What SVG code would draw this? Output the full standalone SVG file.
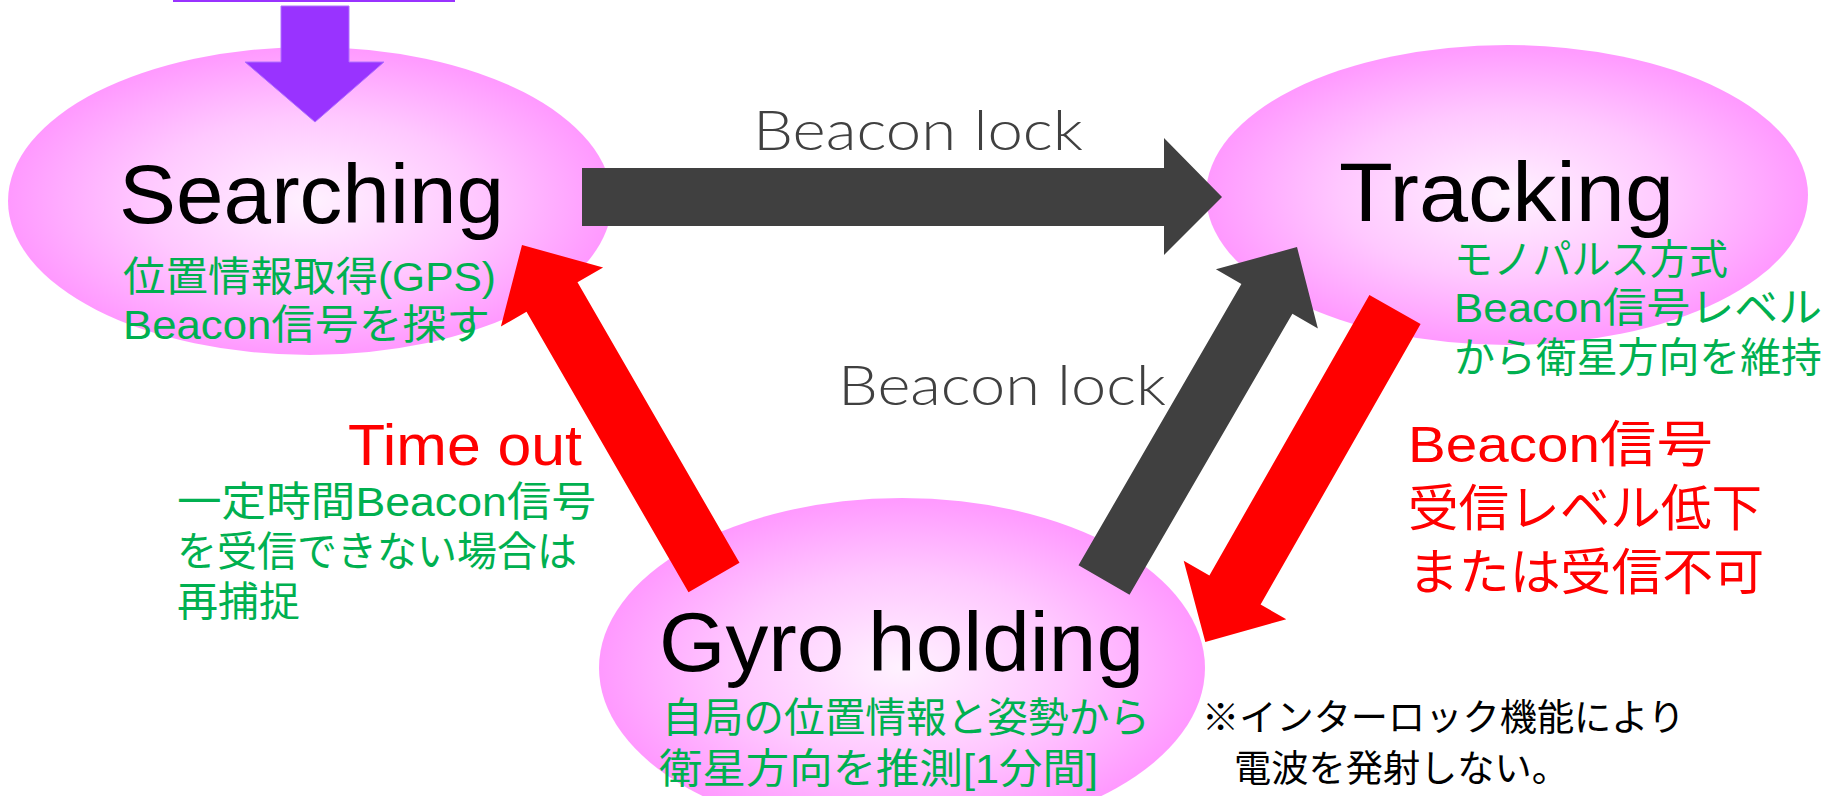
<svg xmlns="http://www.w3.org/2000/svg" width="1836" height="796" viewBox="0 0 1836 796">
  <defs>
    <radialGradient id="pinkGrad" cx="50%" cy="50%" r="50%">
      <stop offset="0%" stop-color="#FFF2FF"/>
      <stop offset="55%" stop-color="#FFC8FF"/>
      <stop offset="100%" stop-color="#FF99FF"/>
    </radialGradient>
  </defs>
  <style>
    .state { fill: url(#pinkGrad); }
    .title { font-family: "Liberation Sans", "Noto Sans CJK JP", sans-serif; font-size: 84px; fill: #000000; }
    .green { font-family: "Liberation Sans", "Noto Sans CJK JP", sans-serif; font-size: 41px; fill: #00B050; }
    .lock { font-family: "Lato", "Liberation Sans", sans-serif; font-weight: 300; font-size: 56px; fill: #404040; }
    .redtxt { font-family: "Liberation Sans", "Noto Sans CJK JP", sans-serif; fill: #FF0000; }
    .note { font-family: "Noto Sans CJK JP", sans-serif; font-size: 37px; fill: #000000; }
    .dark { fill: #404040; }
    .red { fill: #FF0000; }
    .purple { fill: #9933FF; }
  </style>

  <rect width="1836" height="796" fill="#FFFFFF"/>

  <g id="searching">
    <ellipse class="state" cx="310" cy="201" rx="302" ry="154"/>
    <text class="title" x="119" y="223" textLength="385" lengthAdjust="spacingAndGlyphs">Searching</text>
    <text class="green" x="123" y="291" textLength="373" lengthAdjust="spacingAndGlyphs">位置情報取得(GPS)</text>
    <text class="green" x="123" y="339" textLength="367" lengthAdjust="spacingAndGlyphs">Beacon信号を探す</text>
  </g>

  <g id="tracking">
    <ellipse class="state" cx="1507" cy="195" rx="301" ry="150"/>
    <text class="title" x="1339" y="221" textLength="335" lengthAdjust="spacingAndGlyphs">Tracking</text>
    <text class="green" x="1454" y="274" font-size="38" textLength="274" lengthAdjust="spacingAndGlyphs">モノパルス方式</text>
    <text class="green" x="1454" y="322" font-size="40" textLength="368" lengthAdjust="spacingAndGlyphs">Beacon信号レベル</text>
    <text class="green" x="1454" y="372" font-size="40" textLength="368" lengthAdjust="spacingAndGlyphs">から衛星方向を維持</text>
  </g>

  <g id="gyro">
    <ellipse class="state" cx="902" cy="668" rx="303" ry="170"/>
    <text class="title" x="659" y="671" textLength="485" lengthAdjust="spacingAndGlyphs">Gyro holding</text>
    <text class="green" x="662" y="732" textLength="488" lengthAdjust="spacingAndGlyphs">自局の位置情報と姿勢から</text>
    <text class="green" x="659" y="783" textLength="439" lengthAdjust="spacingAndGlyphs">衛星方向を推測[1分間]</text>
  </g>

  <g id="connectors">
    <rect class="purple" x="173" y="0" width="282" height="2"/>
    <polygon class="purple" stroke="#B070FF" stroke-width="1" points="281,6 349,6 349,62 384,62 315,122 245,62 281,62"/>
    <polygon class="dark" points="582,168 1164,168 1164,138 1222,197 1164,255 1164,226 582,226"/>
    <polygon class="red" points="739.5,562.8 577.5,282.3 603.1,267.5 522,245 500.9,326.5 526.5,311.8 688.5,592.3"/>
    <polygon class="dark" points="1078.5,565.2 1241.4,284.1 1215.9,269.3 1297,247 1317.9,328.5 1292.4,313.7 1129.5,594.8"/>
    <polygon class="red" points="1369.4,294.9 1420.6,324.1 1260.6,604.6 1286.3,619.2 1205.3,642.1 1183.7,560.8 1209.4,575.4"/>
  </g>

  <g id="labels">
    <text class="lock" x="753" y="150" textLength="330" lengthAdjust="spacingAndGlyphs">Beacon lock</text>
    <text class="lock" x="838" y="405" textLength="328" lengthAdjust="spacingAndGlyphs">Beacon lock</text>

    <text class="redtxt" x="348" y="465" font-size="58" textLength="234" lengthAdjust="spacingAndGlyphs">Time out</text>
    <text class="green" x="177" y="516" textLength="419" lengthAdjust="spacingAndGlyphs">一定時間Beacon信号</text>
    <text class="green" x="177" y="566" textLength="400" lengthAdjust="spacingAndGlyphs">を受信できない場合は</text>
    <text class="green" x="177" y="616" textLength="123" lengthAdjust="spacingAndGlyphs">再捕捉</text>

    <text class="redtxt" x="1408" y="462" font-size="50" textLength="305" lengthAdjust="spacingAndGlyphs">Beacon信号</text>
    <text class="redtxt" x="1408" y="526" font-size="50" textLength="354" lengthAdjust="spacingAndGlyphs">受信レベル低下</text>
    <text class="redtxt" x="1408" y="590" font-size="50" textLength="356" lengthAdjust="spacingAndGlyphs">または受信不可</text>

    <text class="note" x="1202" y="731" textLength="483" lengthAdjust="spacingAndGlyphs">※インターロック機能により</text>
    <text class="note" x="1234" y="782" textLength="335" lengthAdjust="spacingAndGlyphs">電波を発射しない。</text>
  </g>
</svg>
